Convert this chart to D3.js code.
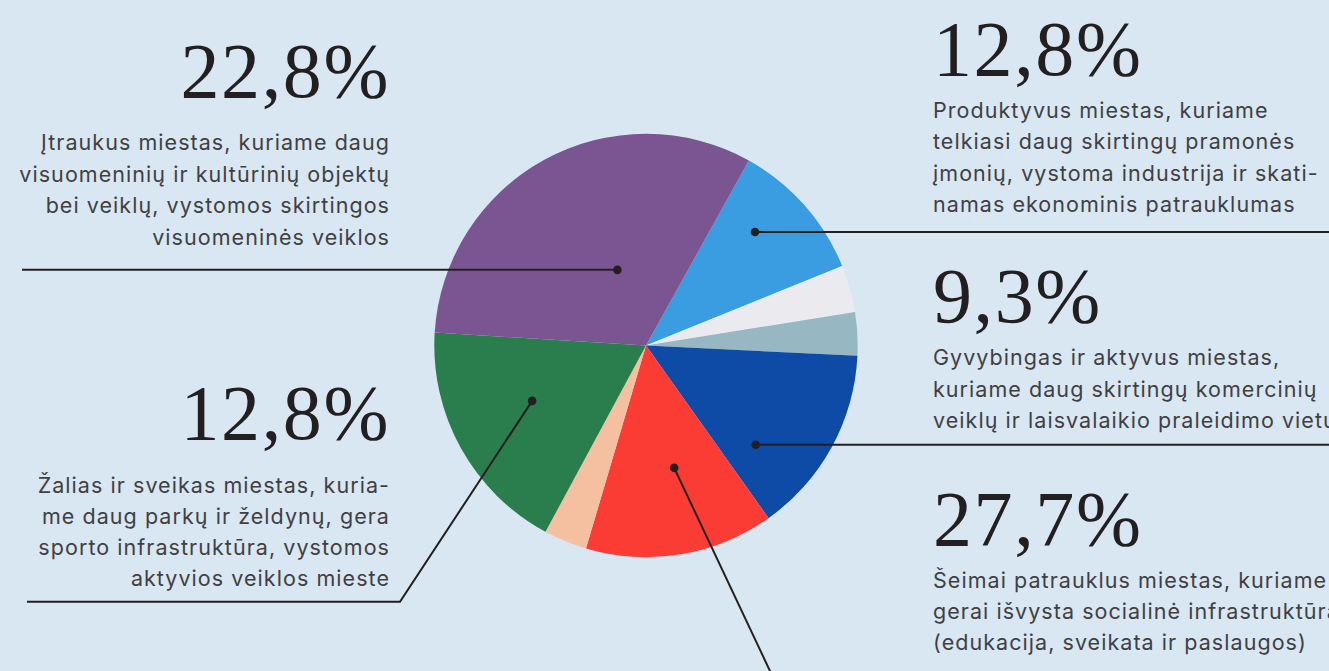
<!DOCTYPE html>
<html><head><meta charset="utf-8">
<script src="https://cdn.jsdelivr.net/npm/d3@7"></script>
<style>
html,body{margin:0;padding:0;background:#d9e7f3;}
svg{display:block;}
</style></head>
<body>
<svg id="c" width="1329" height="671"></svg>
<script>
// ---- data ----
const categories = ["Produktyvus miestas", "Kita (a)", "Kita (b)", "Gyvybingas ir aktyvus miestas",
  "Šeimai patrauklus miestas", "Kita (c)", "Žalias ir sveikas miestas", "Įtraukus miestas"];
const values = [10.8, 3.6, 3.3, 14.4, 14.4, 3.3, 18.1, 32.1];
const colors = ["#3a9de1", "#ebebef", "#97b7c2", "#0d4ba7", "#fa3c34", "#f4c09f", "#2a7d4d", "#7b5591"];

const labelPercents = ["22,8%", "12,8%", "12,8%", "9,3%", "27,7%"];
const labelLines = [
  ["Įtraukus miestas, kuriame daug", "visuomeninių ir kultūrinių objektų", "bei veiklų, vystomos skirtingos", "visuomeninės veiklos"],
  ["Žalias ir sveikas miestas, kuria-", "me daug parkų ir želdynų, gera", "sporto infrastruktūra, vystomos", "aktyvios veiklos mieste"],
  ["Produktyvus miestas, kuriame", "telkiasi daug skirtingų pramonės", "įmonių, vystoma industrija ir skati-", "namas ekonominis patrauklumas"],
  ["Gyvybingas ir aktyvus miestas,", "kuriame daug skirtingų komercinių", "veiklų ir laisvalaikio praleidimo vietų"],
  ["Šeimai patrauklus miestas, kuriame", "gerai išvysta socialinė infrastruktūra", "(edukacija, sveikata ir paslaugos)"]
];
// slice each label points to, position inside slice (fraction of angle span), radius fraction
const labelSlice = [7, 6, 0, 3, 4];
const anchorT = [0.569, 0.548, 0.38, 0.759, 0.432];
const anchorR = [0.382, 0.598, 0.743, 0.699, 0.593];

// ---- layout ----
const W = 1329, H = 671;
const cx = 646, cy = 345.5, R = 211.7;
const startDeg = 29.07;
const svg = d3.select("#c");
const ink = "#231f20", textCol = "#404042";

const pie = d3.pie().sort(null).value(d => d)
  .startAngle(startDeg * Math.PI / 180).endAngle(startDeg * Math.PI / 180 + 2 * Math.PI);
const arcs = pie(values);
const arc = d3.arc().innerRadius(0).outerRadius(R);

const g = svg.append("g").attr("transform", `translate(${cx},${cy})`);
g.selectAll("path").data(arcs).join("path")
  .attr("d", arc).attr("fill", (d, i) => colors[i]);

// anchors
const anchors = labelSlice.map((s, k) => {
  const a = arcs[s];
  const ang = a.startAngle + anchorT[k] * (a.endAngle - a.startAngle);
  const p = d3.pointRadial(ang, anchorR[k] * R);
  return [cx + p[0], cy + p[1]];
});

// label block placement: side, x, baseline of number, first line baseline, line step
const blocks = [
  {side: "left",  x: 390, nb: 96.7, lb: 150, step: 31.7},
  {side: "left",  x: 390, nb: 438.5, lb: 493.3, step: 31},
  {side: "right", x: 933, nb: 75,   lb: 117.5, step: 31.5},
  {side: "right", x: 933, nb: 321.5, lb: 365, step: 31.6},
  {side: "right", x: 933, nb: 545,  lb: 588.3, step: 31}
];

// leader lines
const line = d3.line();
const leaders = [
  [[22, anchors[0][1]], anchors[0]],
  [[27, 601.7], [400, 601.7], anchors[1]],
  [anchors[2], [W + 2, anchors[2][1]]],
  [anchors[3], [W + 2, anchors[3][1]]],
  [anchors[4], [anchors[4][0] + (770 - anchors[4][0]) * 1.2, anchors[4][1] + (671 - anchors[4][1]) * 1.2]]
];
svg.append("g").selectAll("path").data(leaders).join("path")
  .attr("d", d => line(d)).attr("fill", "none").attr("stroke", ink).attr("stroke-width", 2);
svg.append("g").selectAll("circle").data(anchors).join("circle")
  .attr("cx", d => d[0]).attr("cy", d => d[1]).attr("r", 4.3).attr("fill", ink);

// labels
blocks.forEach((b, k) => {
  const anchor = b.side === "left" ? "end" : "start";
  svg.append("text").attr("x", b.x).attr("y", b.nb)
    .attr("text-anchor", anchor)
    .attr("font-family", "'Liberation Serif', 'DejaVu Serif', serif")
    .attr("font-size", 78).attr("letter-spacing", 1.6).attr("fill", ink)
    .text(labelPercents[k]);
  const t = svg.append("text").attr("text-anchor", anchor)
    .attr("font-family", "Inter, 'Noto Sans', sans-serif")
    .attr("font-size", 21.5).attr("font-weight", 400).attr("letter-spacing", 1.05).attr("fill", textCol);
  labelLines[k].forEach((ln, j) => {
    t.append("tspan").attr("x", b.x).attr("y", b.lb + j * b.step).text(ln);
  });
});
</script>
</body></html>
